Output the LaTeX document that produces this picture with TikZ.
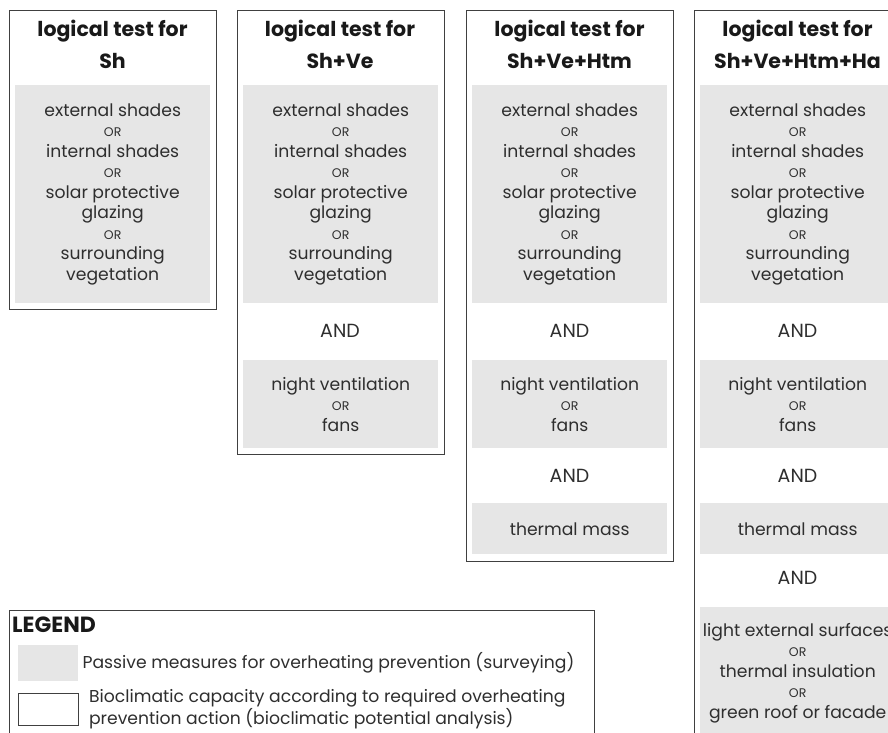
\documentclass[tikz,border=0pt]{standalone}
\usepackage{fontspec}
\setmainfont{Poppins}
\usetikzlibrary{positioning}
\definecolor{measuregray}{HTML}{E6E6E6}
\definecolor{framegray}{HTML}{404040}
\definecolor{textgray}{HTML}{2E2E2E}
\newcommand{\orword}{{\fontsize{12.5}{13}\selectfont OR}}
\tikzset{
	testframe/.style={
		draw=framegray,
		line width=1.4pt,
		anchor=north west,
		inner sep=0pt,
		minimum width=207pt},
	measure/.style={
		fill=measuregray,
		anchor=north west,
		inner sep=0pt,
		minimum width=195pt,
		align=center,
		text=textgray,
		font=\fontsize{17.2}{20.5}\selectfont},
	testtitle/.style={
		align=center,
		text=black!90,
		font=\bfseries\fontsize{20.5}{32}\selectfont},
	andlabel/.style={
		text=textgray,
		font=\fontsize{19}{20}\selectfont},
	legendtext/.style={
		inner sep=0pt,
		anchor=west,
		align=left,
		text=textgray,
		font=\fontsize{17.2}{15.5}\selectfont}
}

\begin{document}
\begin{tikzpicture}[x=1pt, y=-1pt]
	\useasboundingbox (0,0) rectangle (888,732);
	\clip (0,0) rectangle (888,732);
	% column frames
	\node[testframe, minimum height=299pt] (frameSh) at (9,10) {};
	\node[testframe, minimum height=444pt] (frameVe) at (237,10) {};
	\node[testframe, minimum height=551pt] (frameHtm) at (466,10) {};
	\node[testframe, minimum height=740pt] (frameHa) at (694,10) {};
	% titles
	\node[testtitle] (titleSh) at (112.5,44) {logical test for\\Sh};
	\node[testtitle] (titleVe) at (340,44) {logical test for\\Sh+Ve};
	\node[testtitle] (titleHtm) at (569.5,44) {logical test for\\Sh+Ve+Htm};
	\node[testtitle] (titleHa) at (797.5,44) {logical test for\\Sh+Ve+Htm+Ha};
	% shading measures
	\foreach \col/\x in {Sh/15, Ve/243, Htm/472, Ha/700}
		\node[measure, minimum height=218pt] (shade\col) at (\x,85) {external shades\\ \orword\\ internal shades\\ \orword\\ solar protective\\ glazing\\ \orword\\ surrounding\\ vegetation};
	% ventilation measures
	\foreach \col/\x in {Ve/340, Htm/569.5, Ha/797.5}
		\node[andlabel] (andVent\col) at (\x,331) {AND};
	\foreach \col/\x in {Ve/243, Htm/472, Ha/700}
		\node[measure, minimum height=88pt] (vent\col) at (\x,360) {night ventilation\\ \orword\\ fans};
	% thermal mass
	\foreach \col/\x in {Htm/569.5, Ha/797.5}
		\node[andlabel] (andMass\col) at (\x,476) {AND};
	\foreach \col/\x in {Htm/472, Ha/700}
		\node[measure, minimum height=51pt] (mass\col) at (\x,503) {thermal mass};
	% surfaces
	\node[andlabel] (andSurfHa) at (797.5,578) {AND};
	\node[measure, minimum height=132pt] (surfHa) at (700,607) {light external surfaces\\ \orword\\ thermal insulation\\ \orword\\ green roof or facade};
	% legend
	\node[draw=framegray, line width=1.2pt, anchor=north west, minimum width=585pt, minimum height=140pt] (legendframe) at (9,610) {};
	\node[anchor=west, inner sep=0pt, text=black!90, font=\bfseries\fontsize{22}{24}\selectfont] (legendtitle) at (12,625) {LEGEND};
	\node[fill=measuregray, anchor=north west, inner sep=0pt, minimum width=60pt, minimum height=36pt] (legendgray) at (18,645) {};
	\node[draw=framegray, line width=0.9pt, anchor=north west, inner sep=0pt, minimum width=60pt, minimum height=32pt] (legendwhite) at (18,693) {};
	\node[legendtext, right=4pt of legendgray] (legendpassive) {Passive measures for overheating prevention (surveying)};
	\node[legendtext, right=10pt of legendwhite] (legendbio) {Bioclimatic capacity according to required overheating\\prevention action (bioclimatic potential analysis)};
\end{tikzpicture}
\end{document}
